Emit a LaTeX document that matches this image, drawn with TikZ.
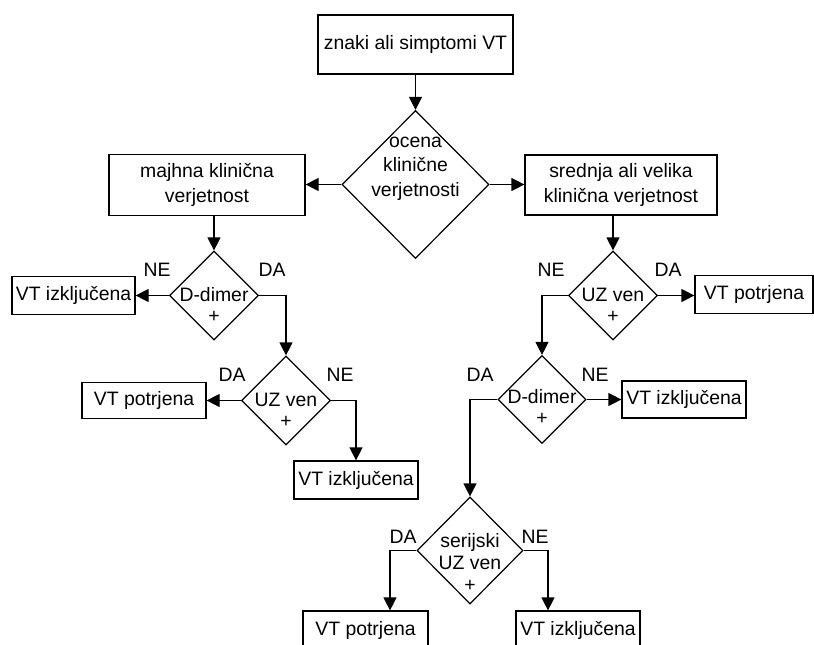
\documentclass[tikz,border=0pt]{standalone}
\usepackage{fontspec}
\setmainfont{Liberation Sans}
\usetikzlibrary{arrows.meta,shapes.geometric}

\begin{document}
\begin{tikzpicture}[x=1pt, y=-1pt, line width=1.2pt,
  >={Triangle[length=13pt,width=13pt]},
  font=\fontsize{19.4}{24.5}\selectfont,
  box/.style={draw, rectangle, inner sep=0pt, align=center},
  dec/.style={draw, diamond, inner sep=0pt, minimum width=89pt, minimum height=89pt},
  dtxt/.style={align=center, inner sep=0pt, anchor=base, font=\fontsize{19.4}{21}\selectfont},
  yn/.style={inner sep=0pt}]
\useasboundingbox (0,0) rectangle (814,645);
\clip (0,0) rectangle (814,645);

\node[box, minimum width=195pt, minimum height=59pt] (znaki) at (415.5,44.5) {znaki ali simptomi VT};
\node[dec, minimum width=147pt, minimum height=148pt] (ocena) at (415.5,184.5) {};
\node[dtxt, font=\fontsize{19.4}{24.5}\selectfont] (ocenat) at (415.5,196) {ocena\\klinične\\verjetnosti};
\node[box, minimum width=196pt, minimum height=61pt] (majhna) at (207,185) {majhna klinična\\verjetnost};
\node[box, minimum width=192pt, minimum height=60pt] (srednja) at (621,185) {srednja ali velika\\klinična verjetnost};

% majhna verjetnost
\node[dec] (dd1) at (214,295.5) {};
\node[dtxt] (dd1t) at (214,322) {D-dimer\\+};
\node[box, minimum width=123pt, minimum height=38pt] (izk1) at (73.5,295.5) {VT izključena};
\node[dec] (uz1) at (286,400.5) {};
\node[dtxt] (uz1t) at (286,427) {UZ ven\\+};
\node[box, minimum width=124pt, minimum height=36pt] (pot1) at (144,400.5) {VT potrjena};
\node[box, minimum width=124pt, minimum height=38pt] (izk2) at (356,480) {VT izključena};

% srednja ali velika verjetnost
\node[dec] (uz2) at (613,295.5) {};
\node[dtxt] (uz2t) at (613,322) {UZ ven\\+};
\node[box, minimum width=118pt, minimum height=38pt] (pot2) at (754,294.5) {VT potrjena};
\node[dec, minimum width=88pt, minimum height=88pt] (dd2) at (542,399.5) {};
\node[dtxt] (dd2t) at (542,424) {D-dimer\\+};
\node[box, minimum width=124pt, minimum height=37pt] (izk3) at (684,399.5) {VT izključena};
\node[dec, minimum width=106pt, minimum height=107pt] (ser) at (470,550.5) {};
\node[dtxt, font=\fontsize{19.4}{22}\selectfont] (sert) at (470,591) {serijski\\UZ ven\\+};
\node[box, minimum width=125pt, minimum height=38pt] (pot3) at (365.5,630) {VT potrjena};
\node[box, minimum width=124pt, minimum height=38pt] (izk4) at (578,630) {VT izključena};

% DA / NE
\node[yn] (ne1) at (157,270) {NE};
\node[yn] (da1) at (272,270) {DA};
\node[yn] (da2) at (232,375) {DA};
\node[yn] (ne2) at (340,375) {NE};
\node[yn] (ne3) at (551,270) {NE};
\node[yn] (da3) at (668,270) {DA};
\node[yn] (da4) at (480,375) {DA};
\node[yn] (ne4) at (595,375) {NE};
\node[yn] (da5) at (403,537) {DA};
\node[yn] (ne5) at (535,537) {NE};

\draw[->] (znaki) -- (ocena);
\draw[->] (ocena.west) -- (ocena.west -| majhna.east);
\draw[->] (ocena.east) -- (ocena.east -| srednja.west);
\draw[->] (majhna.south -| dd1.north) -- (dd1.north);
\draw[->] (dd1.west) -- (izk1.east);
\draw[->] (dd1.east) -| (uz1.north);
\draw[->] (uz1.west) -- (pot1.east);
\draw[->] (uz1.east) -| (izk2.north);
\draw[->] (srednja.south -| uz2.north) -- (uz2.north);
\draw[->] (uz2.east) -- (uz2.east -| pot2.west);
\draw[->] (uz2.west) -| (dd2.north);
\draw[->] (dd2.east) -- (izk3.west);
\draw[->] (dd2.west) -| (ser.north);
\draw[->] (ser.west) -| ([xshift=24.5pt]pot3.north);
\draw[->] (ser.east) -| ([xshift=-30pt]izk4.north);
\end{tikzpicture}
\end{document}
